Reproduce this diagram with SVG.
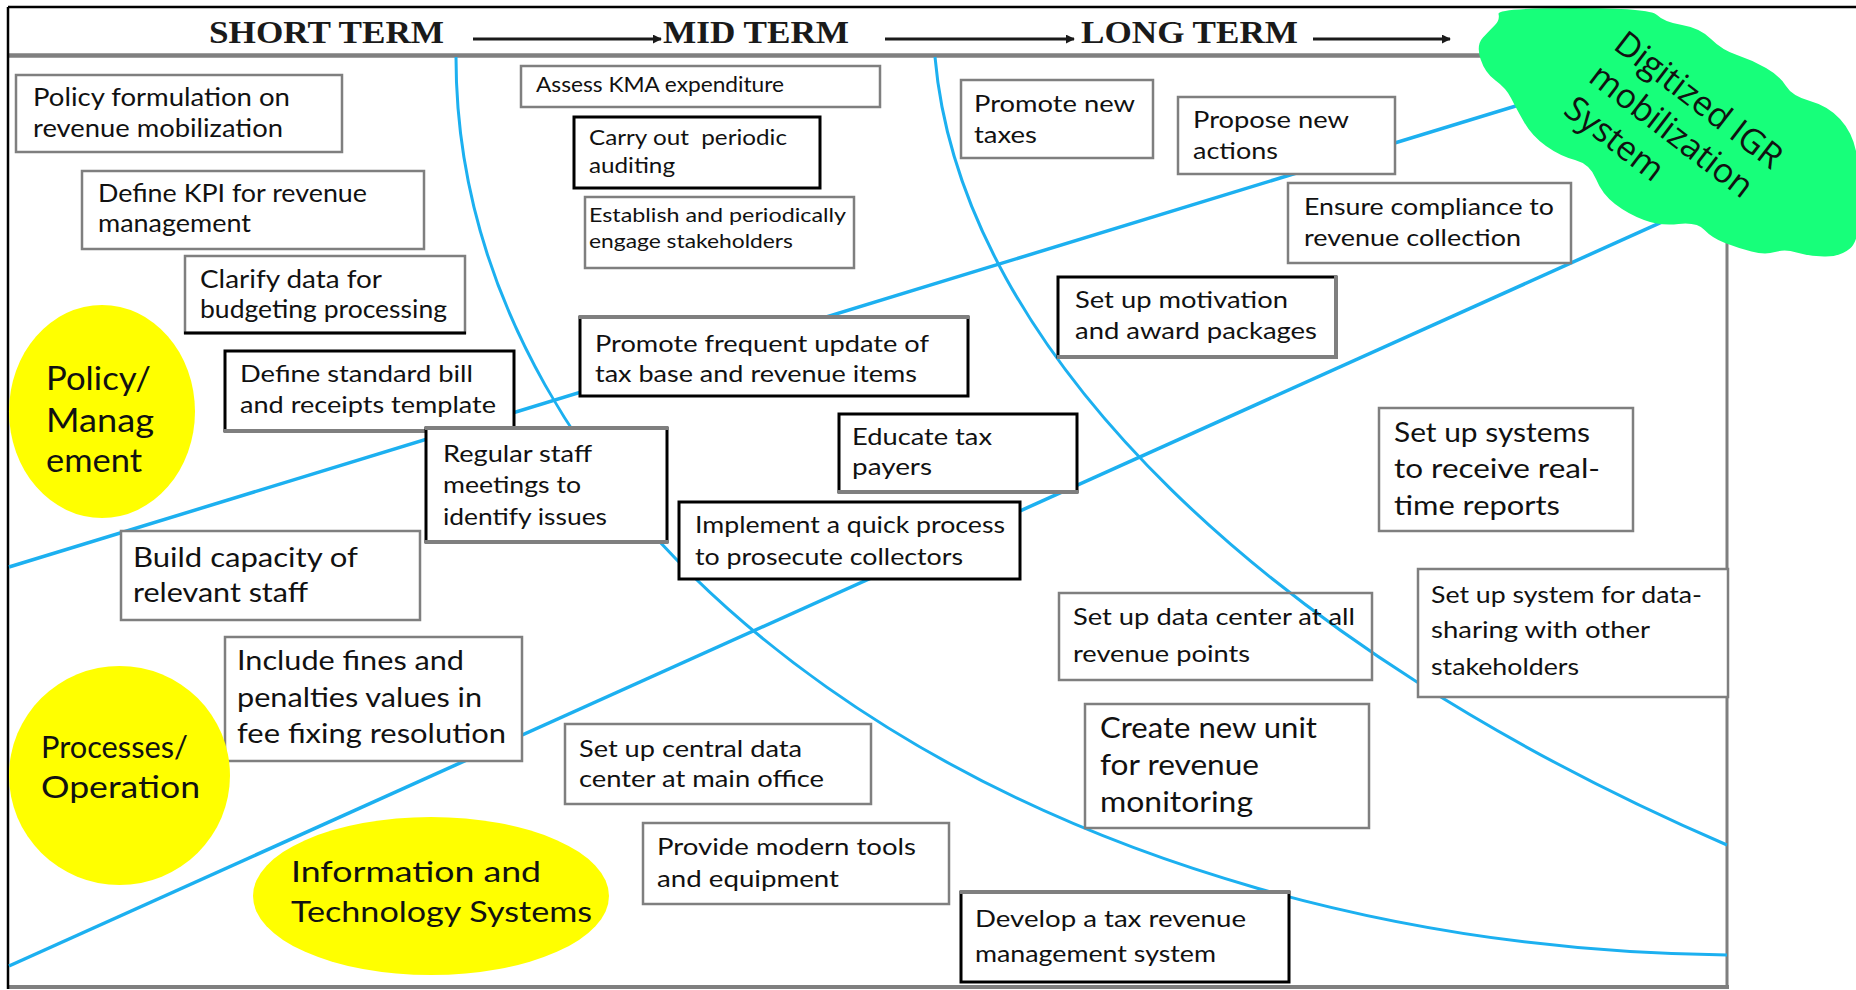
<svg xmlns="http://www.w3.org/2000/svg" width="1856" height="990" viewBox="0 0 1856 990">
<defs>
<style>
.bx{fill:#fff;stroke:#7f7f7f;stroke-width:2.5}
.bk{fill:#fff;stroke:#000;stroke-width:3}
.gl{stroke:#7f7f7f;stroke-width:4;fill:none}
.kl{stroke:#000;stroke-width:3;fill:none}
.t{font-family:Lato,"Liberation Sans",sans-serif;fill:#111}
.hd{font-family:"Liberation Serif",serif;font-weight:bold;font-size:32px;fill:#1a1a1a}
.blue{fill:none;stroke:#1cb0f0;stroke-width:3.5}
.arc{fill:none;stroke:#1cb0f0;stroke-width:3}
.ell{fill:#ffff00}
.cl{font-family:"Open Sans","Noto Sans",sans-serif;font-size:34px;fill:#111}
</style>
<marker id="ah" viewBox="0 0 10 10" refX="9" refY="5" markerWidth="3" markerHeight="3" orient="auto"><path d="M0,0 L10,5 L0,10 z" fill="#1a1a1a"/></marker>
</defs>
<rect x="0" y="0" width="1856" height="990" fill="#fff"/>

<g id="frame">
<line x1="8" y1="55.5" x2="1486" y2="55.5" stroke="#7f7f7f" stroke-width="4.5"/>
<line x1="1727" y1="55" x2="1727" y2="989" stroke="#7f7f7f" stroke-width="3"/>
<line x1="8" y1="987" x2="1729" y2="987" stroke="#7f7f7f" stroke-width="4"/>
<line x1="8" y1="7" x2="8" y2="989" stroke="#000" stroke-width="2.5"/>
</g>

<g id="connectors">
<line class="blue" x1="9" y1="567" x2="1530" y2="101.6"/>
<line class="blue" x1="9" y1="966" x2="1690" y2="209.4"/>
<path class="arc" d="M456 57 A1290 898 0 0 0 1727 955"/>
<path class="arc" d="M935 57 C961 355 1275 650 1727 845"/>
</g>

<g id="n-policy-formulation"><rect class="bx" x="16" y="75" width="326" height="77"/>
<text class="t" font-size="25"><tspan x="33" y="106" textLength="257" lengthAdjust="spacingAndGlyphs">Policy formulation on</tspan><tspan x="33" y="137" textLength="250" lengthAdjust="spacingAndGlyphs">revenue mobilization</tspan></text></g>

<g id="n-define-kpi"><rect class="bx" x="82" y="171" width="342" height="78" stroke-width="3"/>
<text class="t" font-size="25"><tspan x="98" y="202" textLength="269" lengthAdjust="spacingAndGlyphs">Define KPI for revenue</tspan><tspan x="98" y="232" textLength="153" lengthAdjust="spacingAndGlyphs">management</tspan></text></g>

<g id="n-clarify-data"><rect class="bx" x="185" y="256" width="280" height="77" stroke-width="3.5"/>
<line class="kl" x1="184" y1="333" x2="466" y2="333"/>
<text class="t" font-size="25"><tspan x="200" y="288" textLength="182" lengthAdjust="spacingAndGlyphs">Clarify data for</tspan><tspan x="200" y="318" textLength="247" lengthAdjust="spacingAndGlyphs">budgeting processing</tspan></text></g>

<g id="n-assess-kma"><rect class="bx" x="521" y="66" width="359" height="41" stroke-width="2"/>
<text class="t" font-size="21"><tspan x="536" y="92" textLength="248" lengthAdjust="spacingAndGlyphs">Assess KMA expenditure</tspan></text></g>

<g id="n-carry-out"><rect class="bk" x="574" y="117" width="246" height="71"/>
<text class="t" font-size="21" xml:space="preserve"><tspan x="589" y="145" textLength="198" lengthAdjust="spacingAndGlyphs">Carry out  periodic</tspan><tspan x="589" y="173" textLength="86" lengthAdjust="spacingAndGlyphs">auditing</tspan></text></g>

<g id="n-establish"><rect class="bx" x="585" y="197" width="269" height="71"/>
<text class="t" font-size="20"><tspan x="589" y="222" textLength="257" lengthAdjust="spacingAndGlyphs">Establish and periodically</tspan><tspan x="589" y="248" textLength="204" lengthAdjust="spacingAndGlyphs">engage stakeholders</tspan></text></g>

<g id="n-promote-frequent"><rect class="bk" x="580" y="317" width="388" height="79"/>
<line class="gl" x1="579" y1="317" x2="969" y2="317"/>
<text class="t" font-size="24"><tspan x="595" y="352" textLength="334" lengthAdjust="spacingAndGlyphs">Promote frequent update of</tspan><tspan x="595" y="382" textLength="322" lengthAdjust="spacingAndGlyphs">tax base and revenue items</tspan></text></g>

<g id="n-define-standard"><rect class="bk" x="225" y="351" width="289" height="80"/>
<line class="gl" x1="224" y1="431" x2="515" y2="431"/>
<text class="t" font-size="24"><tspan x="240" y="382" textLength="233" lengthAdjust="spacingAndGlyphs">Define standard bill</tspan><tspan x="240" y="413" textLength="256" lengthAdjust="spacingAndGlyphs">and receipts template</tspan></text></g>

<g id="n-regular-staff"><rect class="bk" x="426" y="428" width="241" height="114"/>
<line class="gl" x1="425" y1="428" x2="668" y2="428"/>
<line class="gl" x1="425" y1="542" x2="668" y2="542"/>
<text class="t" font-size="24"><tspan x="443" y="462" textLength="149" lengthAdjust="spacingAndGlyphs">Regular staff</tspan><tspan x="443" y="493" textLength="138" lengthAdjust="spacingAndGlyphs">meetings to</tspan><tspan x="443" y="525" textLength="164" lengthAdjust="spacingAndGlyphs">identify issues</tspan></text></g>

<g id="n-educate"><rect class="bk" x="839" y="414" width="238" height="78"/>
<line class="gl" x1="838" y1="492" x2="1078" y2="492"/>
<text class="t" font-size="23"><tspan x="852" y="445" textLength="140" lengthAdjust="spacingAndGlyphs">Educate tax</tspan><tspan x="852" y="475" textLength="80" lengthAdjust="spacingAndGlyphs">payers</tspan></text></g>

<g id="n-implement"><rect class="bk" x="679" y="502" width="341" height="77"/>
<text class="t" font-size="24"><tspan x="695" y="533" textLength="310" lengthAdjust="spacingAndGlyphs">Implement a quick process</tspan><tspan x="695" y="565" textLength="268" lengthAdjust="spacingAndGlyphs">to prosecute collectors</tspan></text></g>

<g id="n-build-capacity"><rect class="bx" x="121" y="531" width="299" height="89"/>
<text class="t" font-size="26"><tspan x="133" y="567" textLength="225" lengthAdjust="spacingAndGlyphs">Build capacity of</tspan><tspan x="133" y="602" textLength="175" lengthAdjust="spacingAndGlyphs">relevant staff</tspan></text></g>

<g id="n-include-fines"><rect class="bx" x="225" y="637" width="297" height="124"/>
<text class="t" font-size="27"><tspan x="237" y="670" textLength="227" lengthAdjust="spacingAndGlyphs">Include fines and</tspan><tspan x="237" y="707" textLength="245" lengthAdjust="spacingAndGlyphs">penalties values in</tspan><tspan x="237" y="743" textLength="269" lengthAdjust="spacingAndGlyphs">fee fixing resolution</tspan></text></g>

<g id="n-central-data"><rect class="bx" x="565" y="724" width="306" height="80"/>
<text class="t" font-size="24"><tspan x="579" y="757" textLength="223" lengthAdjust="spacingAndGlyphs">Set up central data</tspan><tspan x="579" y="787" textLength="245" lengthAdjust="spacingAndGlyphs">center at main office</tspan></text></g>

<g id="n-modern-tools"><rect class="bx" x="643" y="823" width="306" height="81"/>
<text class="t" font-size="24"><tspan x="657" y="855" textLength="259" lengthAdjust="spacingAndGlyphs">Provide modern tools</tspan><tspan x="657" y="887" textLength="182" lengthAdjust="spacingAndGlyphs">and equipment</tspan></text></g>

<g id="n-promote-new"><rect class="bx" x="961" y="80" width="192" height="78"/>
<text class="t" font-size="23"><tspan x="974" y="112" textLength="161" lengthAdjust="spacingAndGlyphs">Promote new</tspan><tspan x="974" y="143" textLength="63" lengthAdjust="spacingAndGlyphs">taxes</tspan></text></g>

<g id="n-propose-new"><rect class="bx" x="1178" y="97" width="217" height="77"/>
<text class="t" font-size="23"><tspan x="1193" y="128" textLength="156" lengthAdjust="spacingAndGlyphs">Propose new</tspan><tspan x="1193" y="159" textLength="85" lengthAdjust="spacingAndGlyphs">actions</tspan></text></g>

<g id="n-ensure-compliance"><rect class="bx" x="1288" y="183" width="283" height="80"/>
<text class="t" font-size="24"><tspan x="1304" y="215" textLength="250" lengthAdjust="spacingAndGlyphs">Ensure compliance to</tspan><tspan x="1304" y="246" textLength="217" lengthAdjust="spacingAndGlyphs">revenue collection</tspan></text></g>

<g id="n-motivation"><rect class="bk" x="1058" y="277" width="278" height="80"/>
<line class="gl" x1="1336" y1="276" x2="1336" y2="359"/>
<line class="gl" x1="1057" y1="357" x2="1338" y2="357"/>
<text class="t" font-size="24"><tspan x="1075" y="308" textLength="213" lengthAdjust="spacingAndGlyphs">Set up motivation</tspan><tspan x="1075" y="339" textLength="242" lengthAdjust="spacingAndGlyphs">and award packages</tspan></text></g>

<g id="n-systems-reports"><rect class="bx" x="1379" y="408" width="254" height="123"/>
<text class="t" font-size="27"><tspan x="1394" y="442" textLength="196" lengthAdjust="spacingAndGlyphs">Set up systems</tspan><tspan x="1394" y="478" textLength="206" lengthAdjust="spacingAndGlyphs">to receive real-</tspan><tspan x="1394" y="515" textLength="166" lengthAdjust="spacingAndGlyphs">time reports</tspan></text></g>

<g id="n-data-center"><rect class="bx" x="1059" y="593" width="313" height="87" style="fill:none"/>
<text class="t" font-size="24"><tspan x="1073" y="625" textLength="282" lengthAdjust="spacingAndGlyphs">Set up data center at all</tspan><tspan x="1073" y="662" textLength="177" lengthAdjust="spacingAndGlyphs">revenue points</tspan></text></g>

<g id="n-data-sharing"><rect class="bx" x="1418" y="569" width="310" height="128"/>
<text class="t" font-size="23"><tspan x="1431" y="603" textLength="271" lengthAdjust="spacingAndGlyphs">Set up system for data-</tspan><tspan x="1431" y="638" textLength="219" lengthAdjust="spacingAndGlyphs">sharing with other</tspan><tspan x="1431" y="675" textLength="148" lengthAdjust="spacingAndGlyphs">stakeholders</tspan></text></g>

<g id="n-new-unit"><rect class="bx" x="1085" y="704" width="284" height="124"/>
<text class="t" font-size="28"><tspan x="1100" y="738" textLength="217" lengthAdjust="spacingAndGlyphs">Create new unit</tspan><tspan x="1100" y="775" textLength="159" lengthAdjust="spacingAndGlyphs">for revenue</tspan><tspan x="1100" y="812" textLength="153" lengthAdjust="spacingAndGlyphs">monitoring</tspan></text></g>

<g id="n-develop-system"><rect class="bk" x="961" y="892" width="328" height="90"/>
<line class="gl" x1="960" y1="892" x2="1290" y2="892"/>
<text class="t" font-size="24"><tspan x="975" y="927" textLength="271" lengthAdjust="spacingAndGlyphs">Develop a tax revenue</tspan><tspan x="975" y="962" textLength="241" lengthAdjust="spacingAndGlyphs">management system</tspan></text></g>

<g id="n-policy-management"><ellipse class="ell" cx="102" cy="411.5" rx="93" ry="106.5"/>
<text class="t" font-size="33"><tspan x="46" y="390" textLength="105" lengthAdjust="spacingAndGlyphs">Policy/</tspan><tspan x="46" y="432" textLength="108" lengthAdjust="spacingAndGlyphs">Manag</tspan><tspan x="46" y="472" textLength="96" lengthAdjust="spacingAndGlyphs">ement</tspan></text></g>

<g id="n-processes-operation"><ellipse class="ell" cx="119.5" cy="775.5" rx="110.5" ry="109.5"/>
<text class="t" font-size="31"><tspan x="41" y="758" textLength="147" lengthAdjust="spacingAndGlyphs">Processes/</tspan><tspan x="41" y="798" textLength="159" lengthAdjust="spacingAndGlyphs">Operation</tspan></text></g>

<g id="n-info-tech"><ellipse class="ell" cx="431" cy="896" rx="178" ry="79"/>
<text class="t" font-size="29"><tspan x="291" y="882" textLength="250" lengthAdjust="spacingAndGlyphs">Information and</tspan><tspan x="291" y="922" textLength="301" lengthAdjust="spacingAndGlyphs">Technology Systems</tspan></text></g>

<g id="n-digitized-igr">
<path fill="#17ff7a" d="M1498.5,14 Q1497,8 1573.5,8 Q1650,8 1657,15 Q1664,22 1682,25 Q1700,28 1711,39 Q1722,50 1737,55 Q1752,60 1766,68 Q1780,76 1786,86 Q1792,96 1810,101 Q1828,106 1840,119 Q1852,132 1856,151 Q1860,170 1860,205 Q1860,240 1850,248.5 Q1840,257 1824,256.5 Q1808,256 1796.5,252.5 Q1785,249 1775,252 Q1765,255 1751.5,251.5 Q1738,248 1725,243 Q1712,238 1704.5,230 Q1697,222 1678.5,224 Q1660,226 1644,220 Q1628,214 1615,204 Q1602,194 1596,179 Q1590,164 1575,160 Q1560,156 1546,146 Q1532,136 1524,122 Q1516,108 1511,98 Q1506,88 1495.5,80.5 Q1485,73 1480.5,59 Q1476,45 1483,37.5 Q1490,30 1495,25 Q1500,20 1498.5,14 Z"/>
<g transform="translate(1612,48) rotate(37.5)">
<text class="cl"><tspan x="0" y="0">Digitized IGR</tspan><tspan x="0" y="41">mobilization</tspan><tspan x="0" y="82">System</tspan></text>
</g>
</g>

<g id="header">
<line x1="8" y1="7" x2="1856" y2="7" stroke="#000" stroke-width="2.5"/>
<text class="hd" x="209" y="43" textLength="235" lengthAdjust="spacingAndGlyphs">SHORT TERM</text>
<text class="hd" x="663" y="43" textLength="186" lengthAdjust="spacingAndGlyphs">MID TERM</text>
<text class="hd" x="1081" y="43" textLength="217" lengthAdjust="spacingAndGlyphs">LONG TERM</text>
<line x1="473" y1="39" x2="661" y2="39" stroke="#1a1a1a" stroke-width="3" marker-end="url(#ah)"/>
<line x1="885" y1="39" x2="1074" y2="39" stroke="#1a1a1a" stroke-width="3" marker-end="url(#ah)"/>
<line x1="1313" y1="39" x2="1450" y2="39" stroke="#1a1a1a" stroke-width="3" marker-end="url(#ah)"/>
</g>
</svg>
